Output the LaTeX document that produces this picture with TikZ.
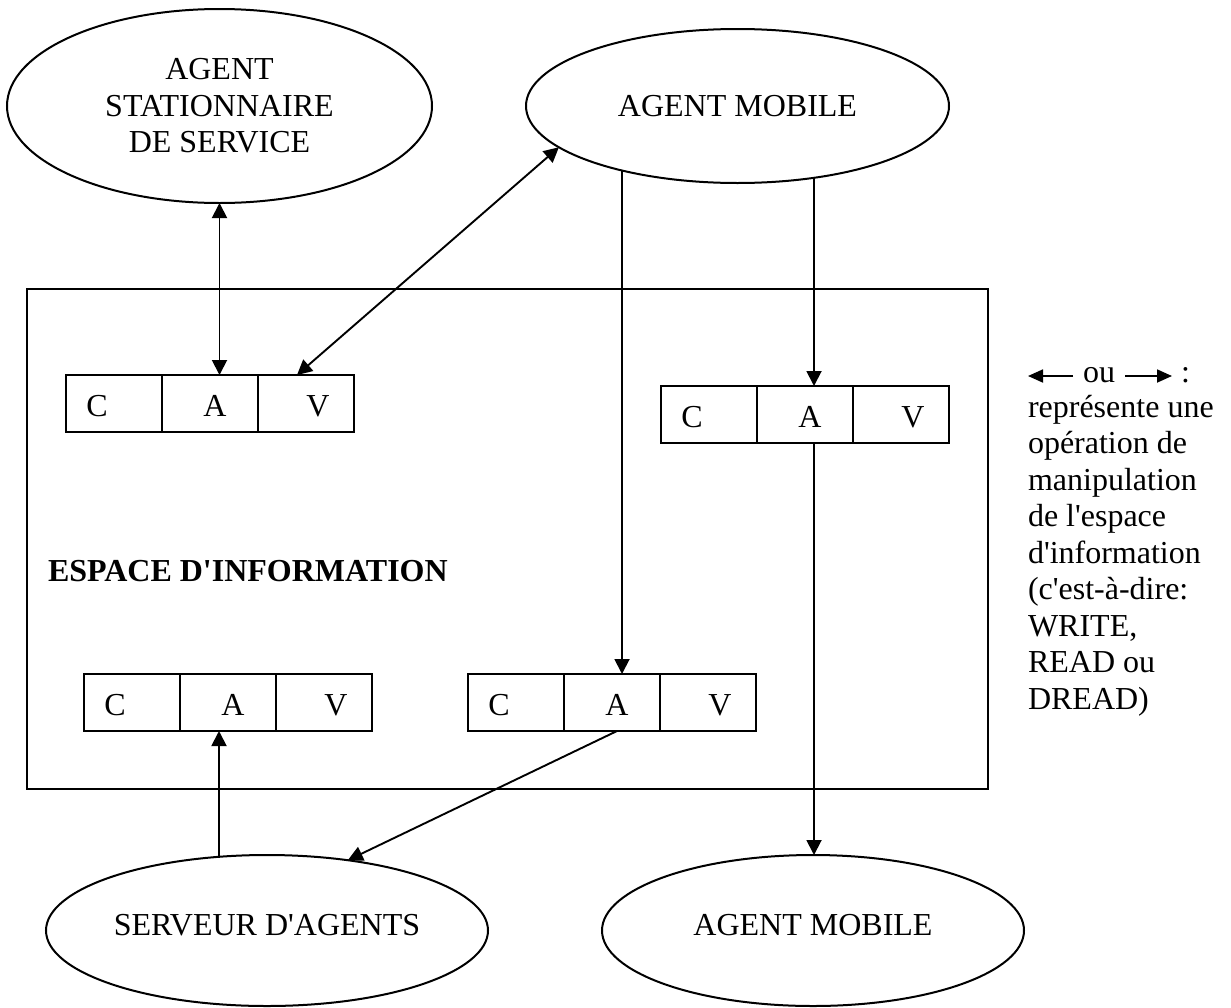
\documentclass[tikz,border=0pt]{standalone}
\usepackage{fontspec}
\newfontfamily\tnr{Liberation Serif}
\usetikzlibrary{shapes.geometric,arrows.meta,calc}

% one C | A | V record: name, left x, top y
\newcommand\cavrow[3]{%
  \node[cav] (#1) at ({#2+144},{#3+28.5}) {};
  \draw[cellrule] ({#2+96},#3) -- ({#2+96},{#3+57});
  \draw[cellrule] ({#2+192},#3) -- ({#2+192},{#3+57});
  \node[cell] (#1-c) at ({#2+31},{#3+41}) {C};
  \node[cell] (#1-a) at ({#2+149},{#3+41}) {A};
  \node[cell] (#1-v) at ({#2+252},{#3+41}) {V};
}

\begin{document}
\begin{tikzpicture}[x=1pt,y=-1pt,
  every node/.style={font=\tnr\fontsize{32}{36.5}\selectfont, inner sep=0pt, outer sep=0pt},
  agent/.style={ellipse, draw, line width=2pt},
  spacebox/.style={draw, line width=2pt},
  cav/.style={draw, line width=2pt, minimum width=288pt, minimum height=57pt},
  cellrule/.style={line width=2pt},
  cell/.style={anchor=base},
  link/.style={line width=1.9pt, -{Triangle[length=15pt,width=15pt]}},
  dlink/.style={line width=1.9pt, {Triangle[length=15pt,width=15pt]}-{Triangle[length=15pt,width=15pt]}},
  legarrow/.style={line width=1.8pt, -{Triangle[length=15pt,width=13pt]}},
  legline/.style={anchor=base west},
]
\useasboundingbox (0,0) rectangle (1231,1007);

% information space
\node[spacebox, minimum width=961pt, minimum height=500pt] (espace) at (507.5,539) {};
\node[anchor=base west, font=\tnr\fontsize{32}{36.5}\selectfont\bfseries] (titre) at (48,581) {ESPACE D'INFORMATION};

% agents
\node[agent, minimum width=425pt, minimum height=194pt, align=center] (e1) at (219.5,106) {AGENT\\STATIONNAIRE\\DE SERVICE};
\node[agent, minimum width=423pt, minimum height=154pt] (e2) at (737.5,106) {AGENT MOBILE};
\node[agent, minimum width=442pt, minimum height=151pt, text height=21pt, text depth=12pt] (e3) at (267,930.5) {SERVEUR D'AGENTS};
\node[agent, minimum width=422pt, minimum height=151pt, text height=21pt, text depth=12pt] (e4) at (813,930.5) {AGENT MOBILE};

% records in the space
\cavrow{b1}{66}{375}
\cavrow{b2}{661}{386}
\cavrow{b3}{84}{674}
\cavrow{b4}{468}{674}

% connector ends on the records
\coordinate (b1-in) at ($(b1.north west)+(231,0)$);
\coordinate (b2-in) at ($(b2.north west)+(153,0)$);
\coordinate (b2-out) at ($(b2.south west)+(153,0)$);
\coordinate (b3-in) at ($(b3.south west)+(135,0)$);
\coordinate (b4-in) at ($(b4.north west)+(154,0)$);
\coordinate (b4-out) at ($(b4.south west)+(149,0)$);

% operations
\draw[dlink] (e1.south) -- (e1.south |- b1.north);
\draw[dlink] (e2.193) -- (b1-in);
\draw[link] (e2.210 -| b4-in) -- (b4-in);
\draw[link] (e2.317 -| b2-in) -- (b2-in);
\draw[link] (b2-out) -- (b2-out |- e4.north);
\draw[link] (e3.123 -| b3-in) -- (b3-in);
\draw[link] (b4-out) -- (e3.41);

% legend
\coordinate (la1) at (1073,376);
\coordinate (la2) at (1028,376);
\draw[legarrow] (la1) -- (la2);
\node[legline] (ou) at (1083,382) {ou};
\coordinate (ra1) at (1125,376);
\coordinate (ra2) at (1172,376);
\draw[legarrow] (ra1) -- (ra2);
\node[legline] (deuxpts) at (1181,382) {:};
\node[legline] (leg1) at (1028,417) {représente une};
\node[legline] (leg2) at (1028,453.5) {opération de};
\node[legline] (leg3) at (1028,490) {manipulation};
\node[legline] (leg4) at (1028,526.5) {de l'espace};
\node[legline] (leg5) at (1028,563) {d'information};
\node[legline] (leg6) at (1028,599.5) {(c'est-à-dire:};
\node[legline] (leg7) at (1028,636) {WRITE,};
\node[legline] (leg8) at (1028,672.5) {READ ou};
\node[legline] (leg9) at (1028,709) {DREAD)};
\end{tikzpicture}
\end{document}
